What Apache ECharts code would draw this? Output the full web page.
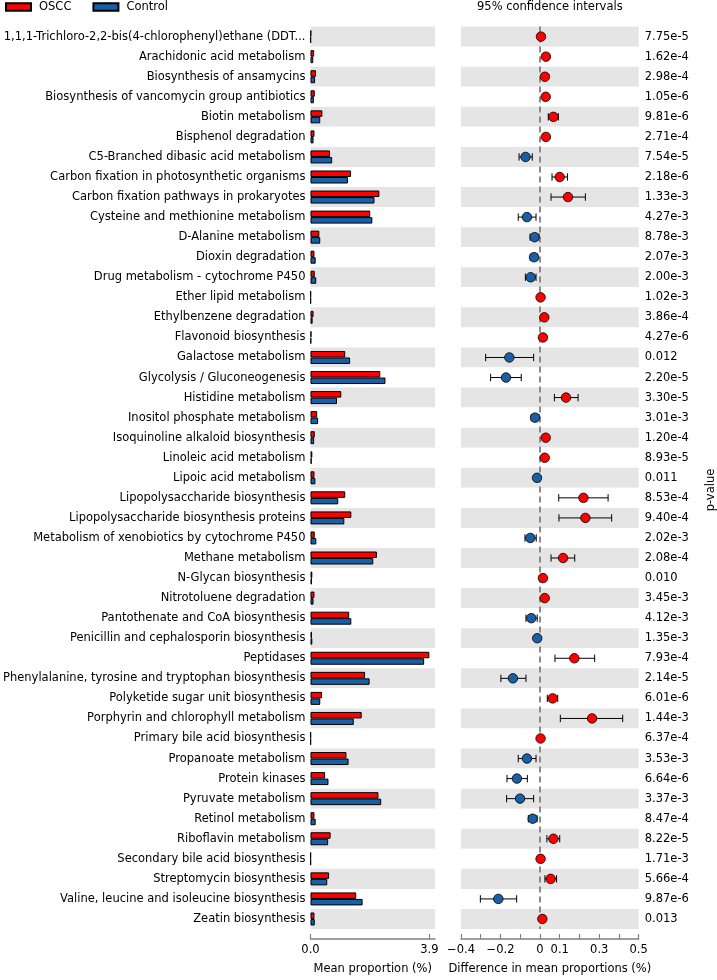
<!DOCTYPE html>
<html>
<head>
<meta charset="utf-8">
<script src="https://cdn.jsdelivr.net/npm/echarts@6/dist/echarts.min.js"></script>
<style>
html,body{margin:0;padding:0;background:#fff;}
#chart{width:717px;height:980px;}
</style>
</head>
<body>
<div id="chart"></div>
<script>
const categories = [
  "1,1,1-Trichloro-2,2-bis(4-chlorophenyl)ethane (DDT...",
  "Arachidonic acid metabolism",
  "Biosynthesis of ansamycins",
  "Biosynthesis of vancomycin group antibiotics",
  "Biotin metabolism",
  "Bisphenol degradation",
  "C5-Branched dibasic acid metabolism",
  "Carbon fixation in photosynthetic organisms",
  "Carbon fixation pathways in prokaryotes",
  "Cysteine and methionine metabolism",
  "D-Alanine metabolism",
  "Dioxin degradation",
  "Drug metabolism - cytochrome P450",
  "Ether lipid metabolism",
  "Ethylbenzene degradation",
  "Flavonoid biosynthesis",
  "Galactose metabolism",
  "Glycolysis / Gluconeogenesis",
  "Histidine metabolism",
  "Inositol phosphate metabolism",
  "Isoquinoline alkaloid biosynthesis",
  "Linoleic acid metabolism",
  "Lipoic acid metabolism",
  "Lipopolysaccharide biosynthesis",
  "Lipopolysaccharide biosynthesis proteins",
  "Metabolism of xenobiotics by cytochrome P450",
  "Methane metabolism",
  "N-Glycan biosynthesis",
  "Nitrotoluene degradation",
  "Pantothenate and CoA biosynthesis",
  "Penicillin and cephalosporin biosynthesis",
  "Peptidases",
  "Phenylalanine, tyrosine and tryptophan biosynthesis",
  "Polyketide sugar unit biosynthesis",
  "Porphyrin and chlorophyll metabolism",
  "Primary bile acid biosynthesis",
  "Propanoate metabolism",
  "Protein kinases",
  "Pyruvate metabolism",
  "Retinol metabolism",
  "Riboflavin metabolism",
  "Secondary bile acid biosynthesis",
  "Streptomycin biosynthesis",
  "Valine, leucine and isoleucine biosynthesis",
  "Zeatin biosynthesis"
];
const oscc = [0.02,0.12,0.18,0.14,0.39,0.13,0.64,1.33,2.26,1.96,0.29,0.13,0.14,0.01,0.10,0.03,1.14,2.29,1.01,0.22,0.14,0.06,0.13,1.14,1.34,0.14,2.18,0.06,0.13,1.27,0.05,3.90,1.79,0.38,1.68,0.01,1.18,0.48,2.23,0.13,0.66,0.01,0.61,1.50,0.13];
const control = [0.01,0.09,0.15,0.11,0.32,0.10,0.71,1.23,2.10,2.03,0.32,0.17,0.19,0.01,0.07,0.02,1.30,2.46,0.87,0.25,0.12,0.04,0.16,0.91,1.11,0.19,2.06,0.05,0.10,1.34,0.06,3.73,1.94,0.32,1.42,0.01,1.25,0.59,2.32,0.17,0.58,0.01,0.55,1.71,0.14];
const diff = [0.005,0.030,0.025,0.029,0.068,0.030,-0.073,0.100,0.142,-0.066,-0.027,-0.030,-0.047,0.003,0.022,0.015,-0.155,-0.172,0.132,-0.025,0.029,0.024,-0.015,0.220,0.230,-0.049,0.117,0.015,0.024,-0.044,-0.014,0.174,-0.137,0.064,0.264,0.003,-0.066,-0.117,-0.101,-0.037,0.068,0.003,0.054,-0.211,0.012];
const ciLow = [0.000,0.024,0.019,0.023,0.042,0.024,-0.106,0.061,0.056,-0.110,-0.050,-0.049,-0.074,-0.002,0.016,0.009,-0.275,-0.250,0.073,-0.044,0.023,0.018,-0.021,0.095,0.096,-0.076,0.056,0.009,0.018,-0.071,-0.020,0.076,-0.198,0.037,0.103,-0.002,-0.110,-0.167,-0.169,-0.059,0.035,-0.002,0.025,-0.302,0.006];
const ciHigh = [0.010,0.036,0.031,0.035,0.093,0.036,-0.039,0.139,0.230,-0.020,-0.005,-0.012,-0.020,0.008,0.028,0.021,-0.032,-0.095,0.193,-0.005,0.035,0.030,-0.009,0.345,0.363,-0.019,0.176,0.021,0.030,-0.014,-0.008,0.277,-0.071,0.090,0.419,0.008,-0.020,-0.064,-0.032,-0.015,0.100,0.008,0.084,-0.118,0.018];
const pvalues = ["7.75e-5","1.62e-4","2.98e-4","1.05e-6","9.81e-6","2.71e-4","7.54e-5","2.18e-6","1.33e-3","4.27e-3","8.78e-3","2.07e-3","2.00e-3","1.02e-3","3.86e-4","4.27e-6","0.012","2.20e-5","3.30e-5","3.01e-3","1.20e-4","8.93e-5","0.011","8.53e-4","9.40e-4","2.02e-3","2.08e-4","0.010","3.45e-3","4.12e-3","1.35e-3","7.93e-4","2.14e-5","6.01e-6","1.44e-3","6.37e-4","3.53e-3","6.64e-6","3.37e-3","8.47e-4","8.22e-5","1.71e-3","5.66e-4","9.87e-6","0.013"];
const leftTicks = [0, 3.9];
const rightTickLabels = [-0.4, -0.2, 0, 0.1, 0.3, 0.5];

const RED = '#ff0000', BLUE = '#1a5ea4', GRAY = '#808080', BAND = '#e5e5e5';
const FONT = 'DejaVu Sans', FS = 11.5;
const gridTop = 26.6, gridH = 906.8;

const chart = echarts.init(document.getElementById('chart'), null, {renderer: 'canvas'});

const axisCommon = {
  axisLine: {show: true, lineStyle: {color: GRAY, width: 1.5}},
  axisTick: {show: true, inside: true, length: 5, lineStyle: {color: GRAY, width: 1.2}},
  splitLine: {show: false},
  nameLocation: 'middle',
  nameGap: 24,
  nameTextStyle: {fontFamily: FONT, fontSize: FS, color: '#000'},
  offset: 10
};

const option = {
  animation: false,
  backgroundColor: '#fff',
  textStyle: {fontFamily: FONT},
  legend: {
    data: ['OSCC', 'Control'],
    left: 5, top: 1, padding: 0,
    itemWidth: 25, itemHeight: 7.5, itemGap: 21,
    icon: 'rect',
    textStyle: {fontFamily: FONT, fontSize: FS, color: '#000', padding: [0, 0, 0, 3]},
    selectedMode: false
  },
  graphic: [
    {type: 'text', left: 550 - 73, top: 1, style: {text: '95% confidence intervals', font: FS + 'px "' + FONT + '"', fill: '#000'}},
    {type: 'text', x: 711, y: 490, rotation: Math.PI / 2, style: {text: 'p-value', font: FS + 'px "' + FONT + '"', fill: '#000', align: 'center', verticalAlign: 'middle'}}
  ],
  grid: [
    {left: 306.7, top: gridTop, width: 128.3, height: gridH, containLabel: false},
    {left: 461, top: gridTop, width: 177.7, height: gridH, containLabel: false}
  ],
  xAxis: [
    Object.assign({}, axisCommon, {
      gridIndex: 0, type: 'value', min: 0, max: 4.086,
      name: 'Mean proportion (%)',
      axisTick: Object.assign({}, axisCommon.axisTick, {customValues: leftTicks}),
      axisLabel: {customValues: leftTicks, formatter: v => v.toFixed(1), fontFamily: FONT, fontSize: FS, color: '#000', margin: 5}
    }),
    Object.assign({}, axisCommon, {
      gridIndex: 1, type: 'value', min: -0.4, max: 0.5, interval: 0.1,
      name: 'Difference in mean proportions (%)',
      axisLabel: {customValues: rightTickLabels, formatter: v => (Math.abs(v) < 1e-9 ? '0' : (v < 0 ? '\u2212' + Math.abs(v) : String(v))), fontFamily: FONT, fontSize: FS, color: '#000', margin: 5}
    })
  ],
  yAxis: [
    {
      gridIndex: 0, type: 'category', inverse: true, data: categories,
      axisLine: {show: false}, axisTick: {show: false},
      axisLabel: {fontFamily: FONT, fontSize: FS, color: '#000', margin: 5},
      splitArea: {show: true, areaStyle: {color: [BAND, '#ffffff']}},
      splitLine: {show: false}
    },
    {
      gridIndex: 1, type: 'category', inverse: true, data: categories, position: 'right',
      axisLine: {show: false}, axisTick: {show: false},
      axisLabel: {fontFamily: FONT, fontSize: FS, color: '#000', margin: 6, align: 'left', formatter: (v, i) => pvalues[i]},
      splitArea: {show: true, areaStyle: {color: [BAND, '#ffffff']}},
      splitLine: {show: false}
    }
  ],
  series: [
    {
      name: 'OSCC', type: 'bar', xAxisIndex: 0, yAxisIndex: 0, data: oscc,
      barWidth: 6.5, barGap: '0%',
      itemStyle: {color: RED, borderColor: '#000', borderWidth: 1}
    },
    {
      name: 'Control', type: 'bar', xAxisIndex: 0, yAxisIndex: 0, data: control,
      barWidth: 6.5, barGap: '0%',
      itemStyle: {color: BLUE, borderColor: '#000', borderWidth: 1}
    },
    {
      name: 'CI', type: 'custom', xAxisIndex: 1, yAxisIndex: 1,
      data: categories.map((c, i) => [i, ciLow[i], ciHigh[i]]),
      encode: {x: [1, 2], y: 0},
      z: 3,
      renderItem: function (params, api) {
        const idx = api.value(0);
        const p1 = api.coord([api.value(1), idx]);
        const p2 = api.coord([api.value(2), idx]);
        const h = 3.7;
        const st = {stroke: '#000', lineWidth: 1};
        return {type: 'group', children: [
          {type: 'line', shape: {x1: p1[0], y1: p1[1], x2: p2[0], y2: p2[1]}, style: st},
          {type: 'line', shape: {x1: p1[0], y1: p1[1] - h, x2: p1[0], y2: p1[1] + h}, style: st},
          {type: 'line', shape: {x1: p2[0], y1: p2[1] - h, x2: p2[0], y2: p2[1] + h}, style: st}
        ]};
      }
    },
    {
      name: 'diff', type: 'scatter', xAxisIndex: 1, yAxisIndex: 1, z: 5,
      data: diff.map((d, i) => [d, i]),
      symbolSize: 9.5,
      itemStyle: {color: p => (p.value[0] >= 0 ? RED : BLUE), borderColor: '#000', borderWidth: 0.8, opacity: 1},
      markLine: {
        silent: true, symbol: 'none', label: {show: false},
        lineStyle: {color: GRAY, type: [6, 4], width: 1.8},
        data: [{xAxis: 0}]
      }
    }
  ]
};
chart.setOption(option);
</script>
</body>
</html>
